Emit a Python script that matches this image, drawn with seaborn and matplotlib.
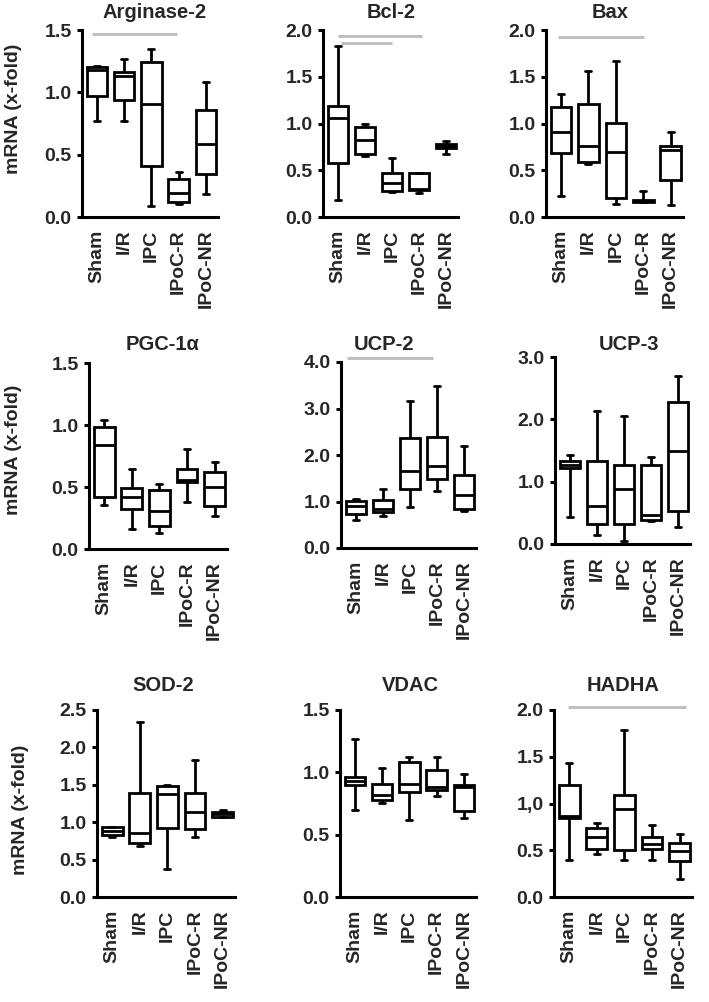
import numpy as np
import pandas as pd
import matplotlib
matplotlib.use("Agg")
import matplotlib.pyplot as plt
import seaborn as sns

# ---------------- data ----------------
groups = ["Sham", "I/R", "IPC", "IPoC-R", "IPoC-NR"]

# five-number summaries per group: [min, Q1, median, Q3, max]
arginase2 = [[0.77, 0.97, 1.18, 1.20, 1.21],
             [0.77, 0.94, 1.13, 1.16, 1.27],
             [0.09, 0.41, 0.91, 1.24, 1.345],
             [0.107, 0.117, 0.19, 0.307, 0.358],
             [0.184, 0.344, 0.587, 0.859, 1.086]]
bcl2 = [[0.186, 0.579, 1.06, 1.186, 1.83],
        [0.65, 0.67, 0.82, 0.96, 1.0],
        [0.264, 0.275, 0.364, 0.471, 0.632],
        [0.257, 0.293, 0.30, 0.471, 0.471],
        [0.675, 0.736, 0.757, 0.786, 0.81]]
bax = [[0.221, 0.686, 0.91, 1.179, 1.318],
       [0.568, 0.589, 0.757, 1.21, 1.56],
       [0.143, 0.204, 0.696, 1.007, 1.668],
       [0.157, 0.157, 0.168, 0.186, 0.282],
       [0.125, 0.396, 0.72, 0.757, 0.91]]
pgc1a = [[0.354, 0.416, 0.837, 0.985, 1.044],
         [0.158, 0.319, 0.416, 0.488, 0.649],
         [0.126, 0.185, 0.306, 0.475, 0.523],
         [0.381, 0.537, 0.555, 0.649, 0.81],
         [0.268, 0.346, 0.496, 0.622, 0.703]]
ucp2 = [[0.61, 0.724, 0.896, 1.01, 1.06],
        [0.688, 0.774, 0.846, 1.025, 1.26],
        [0.882, 1.276, 1.649, 2.366, 3.154],
        [1.226, 1.49, 1.756, 2.387, 3.49],
        [0.796, 0.847, 1.133, 1.578, 2.19]]
ucp3 = [[0.428, 1.219, 1.27, 1.337, 1.433],
        [0.15, 0.326, 0.615, 1.326, 2.128],
        [0.043, 0.326, 0.882, 1.262, 2.059],
        [0.364, 0.39, 0.47, 1.262, 1.396],
        [0.267, 0.524, 1.497, 2.283, 2.69]]
sod2 = [[0.80, 0.823, 0.881, 0.934, 0.934],
        [0.676, 0.725, 0.859, 1.392, 2.335],
        [0.378, 0.921, 1.379, 1.49, 1.499],
        [0.80, 0.912, 1.134, 1.392, 1.833],
        [1.068, 1.068, 1.112, 1.134, 1.157]]
vdac = [[0.696, 0.897, 0.932, 0.964, 1.264],
        [0.758, 0.782, 0.817, 0.903, 1.037],
        [0.621, 0.844, 0.905, 1.085, 1.12],
        [0.812, 0.857, 0.884, 1.018, 1.12],
        [0.63, 0.688, 0.884, 0.897, 0.983]]
hadha = [[0.40, 0.85, 0.87, 1.196, 1.436],
         [0.457, 0.518, 0.643, 0.739, 0.793],
         [0.393, 0.50, 0.946, 1.089, 1.786],
         [0.393, 0.518, 0.571, 0.643, 0.768],
         [0.196, 0.386, 0.493, 0.579, 0.679]]

titles = ["Arginase-2", "Bcl-2", "Bax", "PGC-1α", "UCP-2", "UCP-3",
          "SOD-2", "VDAC", "HADHA"]
panel_data = [arginase2, bcl2, bax, pgc1a, ucp2, ucp3, sod2, vdac, hadha]
y_max = [1.5, 2.0, 2.0, 1.5, 4.0, 3.0, 2.5, 1.5, 2.0]
y_ticks = [[0, 0.5, 1.0, 1.5], [0, 0.5, 1.0, 1.5, 2.0], [0, 0.5, 1.0, 1.5, 2.0],
           [0, 0.5, 1.0, 1.5], [0, 1, 2, 3, 4], [0, 1, 2, 3],
           [0, 0.5, 1.0, 1.5, 2.0, 2.5], [0, 0.5, 1.0, 1.5], [0, 0.5, 1.0, 1.5, 2.0]]
y_ticklabels = [["0.0", "0.5", "1.0", "1.5"],
                ["0.0", "0.5", "1.0", "1.5", "2.0"],
                ["0.0", "0.5", "1.0", "1.5", "2.0"],
                ["0.0", "0.5", "1.0", "1.5"],
                ["0.0", "1.0", "2.0", "3.0", "4.0"],
                ["0.0", "1.0", "2.0", "3.0"],
                ["0.0", "0.5", "1.0", "1.5", "2.0", "2.5"],
                ["0.0", "0.5", "1.0", "1.5"],
                ["0.0", "0.5", "1,0", "1.5", "2.0"]]
# significance bars: (panel index, x start, x end, y)
sig_bars = [(0, -0.2, 2.95, 1.468),
            (1, 0.0, 3.1, 1.936), (1, 0.1, 2.0, 1.86),
            (2, -0.1, 3.03, 1.925),
            (4, -0.33, 2.84, 4.09),
            (8, -0.04, 4.24, 2.03)]

# ---------------- layout (pixels) ----------------
W, H = 709, 1002
axes_px = [(82, 30, 218, 217), (323, 30, 458, 217), (546, 30, 683, 217),
           (89, 363, 227, 549), (341, 362, 476, 548), (555, 357, 690, 544),
           (97, 710, 235, 897), (340, 710, 476, 897), (554, 710, 692, 897)]
title_px = [(155, 18), (391, 18), (610, 18),
            (163, 350), (384, 350), (629, 350),
            (163, 691), (410, 691), (623, 691)]
ylabel_px = [(14, 109), (14, 450), (21, 810)]

sns.set_style("white")
plt.rcParams["font.family"] = ["Liberation Sans", "DejaVu Sans"]
plt.rcParams["font.weight"] = "bold"

fig = plt.figure(figsize=(W / 100, H / 100), dpi=100)

def rect(l, t, r, b):
    return [l / W, 1 - b / H, (r - l) / W, (b - t) / H]

LW = 2.0
for i in range(9):
    ax = fig.add_axes(rect(*axes_px[i]))
    rows = []
    for g, vals in zip(groups, panel_data[i]):
        for v in vals:
            rows.append((g, v))
    df = pd.DataFrame(rows, columns=["group", "value"])
    sns.boxplot(data=df, x="group", y="value", order=groups, ax=ax,
                whis=(0, 100), width=0.75, color="white", linecolor="black",
                saturation=1, linewidth=LW, capwidths=0.22,
                showfliers=False)
    ax.set_xlim(-0.55, 4.45)
    ax.set_ylim(0, y_max[i])
    ax.set_yticks(y_ticks[i])
    ax.set_yticklabels(y_ticklabels[i], fontsize=14, fontweight="bold")
    ax.set_xticks(range(5))
    ax.set_xticklabels(groups, rotation=90, fontsize=14, fontweight="bold",
                       va="top", ha="center")
    ax.set_xlabel("")
    ax.set_ylabel("")
    for s in ["top", "right"]:
        ax.spines[s].set_visible(False)
    for s in ["left", "bottom"]:
        ax.spines[s].set_linewidth(2.2)
        ax.spines[s].set_color("black")
    ax.tick_params(axis="y", direction="out", length=3.5, width=2.2,
                   color="black", pad=4, left=True)
    ax.tick_params(axis="x", length=0, pad=9)
    tx, ty = title_px[i]
    fig.text(tx / W, 1 - ty / H, titles[i], ha="center", va="baseline",
             fontsize=14.5, fontweight="bold")

    for (pi, x0, x1, yv) in sig_bars:
        if pi == i:
            ax.plot([x0, x1], [yv, yv], color="#c0c0c0", lw=2.2,
                    solid_capstyle="butt", clip_on=False)

for (x, y) in ylabel_px:
    fig.text(x / W, 1 - y / H, "mRNA (x-fold)", rotation=90, ha="center",
             va="center", fontsize=14, fontweight="bold")

fig.savefig("out.png", dpi=100)
